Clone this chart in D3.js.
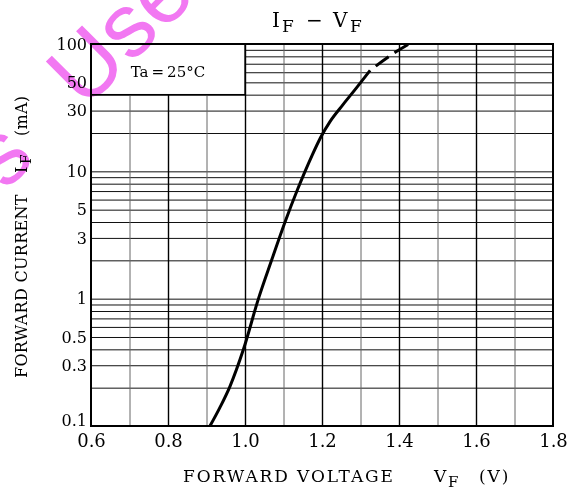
<!DOCTYPE html>
<html>
<head>
<meta charset="utf-8">
<script src="https://cdn.jsdelivr.net/npm/d3@7"></script>
<style>
  body { margin: 0; background: #fff; }
  .serif { font-family: "DejaVu Serif", "Liberation Serif", serif; fill: #000; }
  .mark { font-family: "Liberation Sans", Arial, sans-serif; font-size: 90px; fill: #f278f2; mix-blend-mode: multiply; }
</style>
</head>
<body>
<div id="chart"></div>
<script>
// IF - VF curve
const vfSolid = [0.909, 0.935, 0.961, 0.996, 1.035, 1.069, 1.104, 1.1364, 1.156, 1.174, 1.1974, 1.2208, 1.2545, 1.290, 1.325];
const ifSolid = [0.1, 0.14, 0.205, 0.40, 1.0, 2.0, 4.0, 7.2, 10, 13.3, 18.7, 24.6, 33.4, 45.4, 62];
const vfDashed = [1.325, 1.377, 1.426];
const ifDashed = [62, 81, 100];

const xTicks = [0.6, 0.8, 1.0, 1.2, 1.4, 1.6, 1.8];
const xTickLabels = ["0.6", "0.8", "1.0", "1.2", "1.4", "1.6", "1.8"];
const yTicks = [0.1, 0.3, 0.5, 1, 3, 5, 10, 30, 50, 100];
const yTickLabels = ["0.1", "0.3", "0.5", "1", "3", "5", "10", "30", "50", "100"];

const width = 567, height = 492;
const plotLeft = 91, plotRight = 553, plotTop = 44, plotBottom = 426;

const svg = d3.select("#chart").append("svg")
    .attr("width", width)
    .attr("height", height);

const x = d3.scaleLinear().domain([0.6, 1.8]).range([plotLeft, plotRight]);
const y = d3.scaleLog().domain([0.1, 100]).range([plotBottom, plotTop]);

// grid values: every 0.1 V, and 1..9 in each decade
const vMinor = d3.range(7, 18, 2).map(d => d / 10);
const vMajor = d3.range(8, 17, 2).map(d => d / 10);
const hLines = [];
[0.1, 1, 10].forEach(dec => d3.range(1, 10).forEach(n => hLines.push(+(n * dec).toPrecision(3))));

// Horizontal grid
svg.append("g")
    .attr("transform", `translate(${plotLeft},0)`)
    .call(d3.axisLeft(y).tickValues(hLines).tickSize(-(plotRight - plotLeft)).tickFormat(""))
    .call(g => g.select(".domain").remove())
    .selectAll(".tick line")
    .attr("stroke", "#111")
    .attr("stroke-width", 1);

// Vertical grid, light ones first
svg.append("g")
    .attr("transform", `translate(0,${plotBottom})`)
    .call(d3.axisBottom(x).tickValues(vMinor).tickSize(-(plotBottom - plotTop)).tickFormat(""))
    .call(g => g.select(".domain").remove())
    .selectAll(".tick line")
    .attr("stroke", "#666")
    .attr("stroke-width", 1);

svg.append("g")
    .attr("transform", `translate(0,${plotBottom})`)
    .call(d3.axisBottom(x).tickValues(vMajor).tickSize(-(plotBottom - plotTop)).tickFormat(""))
    .call(g => g.select(".domain").remove())
    .selectAll(".tick line")
    .attr("stroke", "#000")
    .attr("stroke-width", 1.4);

// Condition box (hides the grid behind it)
svg.append("rect")
    .attr("x", x(0.6))
    .attr("y", y(100))
    .attr("width", x(1.0) - x(0.6))
    .attr("height", y(40) - y(100))
    .attr("fill", "#fff")
    .attr("stroke", "#000")
    .attr("stroke-width", 1.4);

svg.append("text")
    .attr("class", "serif")
    .attr("x", x(0.8))
    .attr("y", 77)
    .attr("text-anchor", "middle")
    .attr("font-size", 15)
    .text("Ta\u2009=\u200925°C");

// Frame
svg.append("rect")
    .attr("x", plotLeft)
    .attr("y", plotTop)
    .attr("width", plotRight - plotLeft)
    .attr("height", plotBottom - plotTop)
    .attr("fill", "none")
    .attr("stroke", "#000")
    .attr("stroke-width", 2);

// Curve
const line = d3.line()
    .x(d => x(d[0]))
    .y(d => y(d[1]))
    .curve(d3.curveMonotoneX);

svg.append("path")
    .datum(d3.zip(vfSolid, ifSolid))
    .attr("fill", "none")
    .attr("stroke", "#000")
    .attr("stroke-width", 3)
    .attr("d", line);

svg.append("path")
    .datum(d3.zip(vfDashed, ifDashed))
    .attr("fill", "none")
    .attr("stroke", "#000")
    .attr("stroke-width", 3)
    .attr("stroke-dasharray", "16 7")
    .attr("stroke-dashoffset", 16)
    .attr("d", line);

// Axes labels
const xAxis = svg.append("g")
    .attr("transform", `translate(0,${plotBottom})`)
    .call(d3.axisBottom(x).tickValues(xTicks).tickSize(0).tickPadding(8)
        .tickFormat((d, i) => xTickLabels[i]));
xAxis.select(".domain").remove();
xAxis.selectAll("text")
    .attr("class", "serif")
    .attr("font-size", 18);

const yAxis = svg.append("g")
    .attr("transform", `translate(${plotLeft},0)`)
    .call(d3.axisLeft(y).tickValues(yTicks).tickSize(0).tickPadding(4)
        .tickFormat((d, i) => yTickLabels[i]));
yAxis.select(".domain").remove();
yAxis.selectAll("text")
    .attr("class", "serif")
    .attr("font-size", 16);
// bottom label sits a little higher so it clears "0.6"
yAxis.selectAll(".tick text").filter(d => d === 0.1).attr("dy", "-0.05em");

// Title
const title = svg.append("text")
    .attr("class", "serif")
    .attr("y", 27)
    .attr("font-size", 20);
title.append("tspan").attr("x", 272).text("I");
title.append("tspan").attr("x", 282).attr("dy", 5).attr("font-size", 17).text("F");
title.append("tspan").attr("x", 306).attr("dy", -5).text("\u2212");
title.append("tspan").attr("x", 333).text("V");
title.append("tspan").attr("x", 350).attr("dy", 5).attr("font-size", 17).text("F");

// X axis title
const xt = svg.append("text")
    .attr("class", "serif")
    .attr("x", 183)
    .attr("y", 482)
    .attr("font-size", 17)
    .attr("letter-spacing", 1.9);
xt.append("tspan").text("FORWARD VOLTAGE");
xt.append("tspan").attr("x", 434).text("V");
xt.append("tspan").attr("x", 448).attr("font-size", 15).attr("dy", 5).text("F");
xt.append("tspan").attr("x", 479).attr("dy", -5).text("(V)");

// Y axis title
const yt = svg.append("text")
    .attr("class", "serif")
    .attr("transform", "translate(27,378) rotate(-90)")
    .attr("font-size", 16)
    .attr("letter-spacing", 0.3);
yt.append("tspan").attr("x", 0).text("FORWARD CURRENT");
yt.append("tspan").attr("x", 205).text("I");
yt.append("tspan").attr("x", 214).attr("font-size", 14).attr("dy", 4).text("F");
yt.append("tspan").attr("x", 242).attr("dy", -4).text("(mA)");

// Watermark
svg.append("text")
    .attr("class", "mark")
    .attr("transform", "translate(-62,259) rotate(-45)")
    .text("ces");
svg.append("text")
    .attr("class", "mark")
    .attr("transform", "translate(84.7,110.3) rotate(-45)")
    .text("Use");
</script>
</body>
</html>
